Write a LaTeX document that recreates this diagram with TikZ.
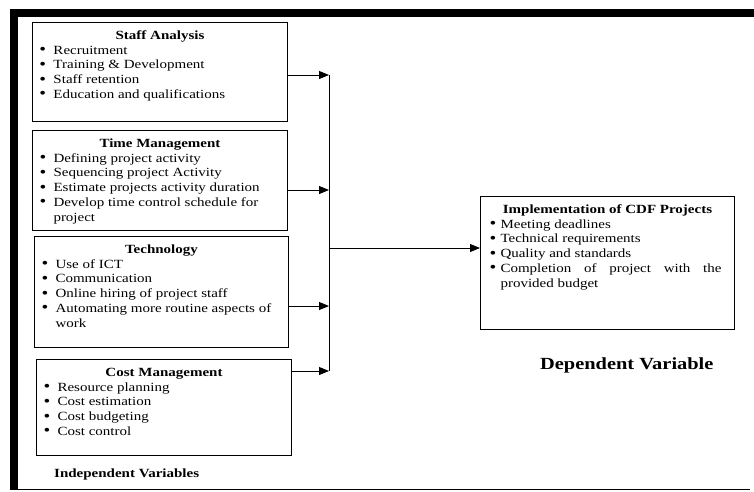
\documentclass[tikz,border=0pt]{standalone}
\usepackage{fontspec}
\setmainfont{Liberation Serif}[FakeStretch=1.2]
\usetikzlibrary{arrows.meta}
\newcommand{\bigbul}{\raisebox{-0.4pt}{\fontsize{16}{16}\selectfont\textbullet}}
\newcommand{\boxtitle}[1]{{\centering\rule{0pt}{17pt}\textbf{#1}\par}}
\newcommand{\bitem}[1]{\par\noindent\hangindent=21pt\hangafter=1\hspace*{7pt}\makebox[14pt][l]{\bigbul}#1\par}
\newcommand{\bitemI}[1]{\par\noindent\hangindent=20pt\hangafter=1\hspace*{9pt}\makebox[11pt][l]{\bigbul}#1\par}
\newcommand{\boxbody}[3]{\begin{minipage}[t][#2][t]{#1}\fontsize{12.5}{14.7}\selectfont\raggedright #3\end{minipage}}
\tikzset{
  box/.style={draw, line width=1pt, inner sep=0pt, anchor=north west},
  conn/.style={line width=0.9pt, -{Triangle[length=10pt,width=8pt]}},
  plain/.style={line width=0.9pt},
  lbl/.style={inner sep=0pt, anchor=base west}
}
\begin{document}
\begin{tikzpicture}[x=1pt,y=-1pt]
\useasboundingbox (0,0) rectangle (754,491);
% frame
\fill (10,9) rectangle (754,17);
\fill (10,9) rectangle (18,490);
\draw[line width=1pt] (18,489.5) -- (750,489.5);
% boxes
\node[box] (sa) at (32,22) {\boxbody{255pt}{99pt}{%
  \boxtitle{Staff Analysis}
  \bitem{Recruitment}
  \bitem{Training \& Development}
  \bitem{Staff retention}
  \bitem{Education and qualifications}}};
\node[box] (tm) at (32,130) {\boxbody{255pt}{100pt}{%
  \boxtitle{Time Management}
  \bitem{Defining project activity}
  \bitem{Sequencing project Activity}
  \bitem{Estimate projects activity duration}
  \bitem{Develop time control schedule for\newline project}}};
\node[box] (te) at (34,236) {\boxbody{254pt}{111pt}{%
  \boxtitle{Technology}
  \bitem{Use of ICT}
  \bitem{Communication}
  \bitem{Online hiring of project staff}
  \bitem{Automating more routine aspects of\newline work}}};
\node[box] (cm) at (36,359) {\boxbody{255pt}{96pt}{%
  \boxtitle{Cost Management}
  \bitem{Resource planning}
  \bitem{Cost estimation}
  \bitem{Cost budgeting}
  \bitem{Cost control}}};
\node[box] (imp) at (480,196) {\boxbody{254pt}{133pt}{%
  \boxtitle{Implementation of CDF Projects}
  \bitemI{Meeting deadlines}
  \bitemI{Technical requirements}
  \bitemI{Quality and standards}
  \bitemI{\makebox[221pt][s]{Completion of project with the}\newline provided budget}}};
% labels
\node[lbl] (iv) at (54,477) {\fontsize{12.5}{14}\selectfont\bfseries Independent Variables};
\node[lbl] (dv) at (540,369) {\fontsize{17}{20}\selectfont\bfseries Dependent Variable};
% connectors
\coordinate (j1) at (329,75);
\coordinate (j2) at (329,190);
\coordinate (j3) at (329,306);
\coordinate (j4) at (329,371);
\coordinate (jm) at (329,248);
\draw[plain] (j1) -- (j4);
\draw[conn] (sa.east |- j1) -- (j1);
\draw[conn] (tm.east |- j2) -- (j2);
\draw[conn] (te.east |- j3) -- (j3);
\draw[conn] (cm.east |- j4) -- (j4);
\draw[conn] (jm) -- (imp.west |- jm);
\end{tikzpicture}
\end{document}
